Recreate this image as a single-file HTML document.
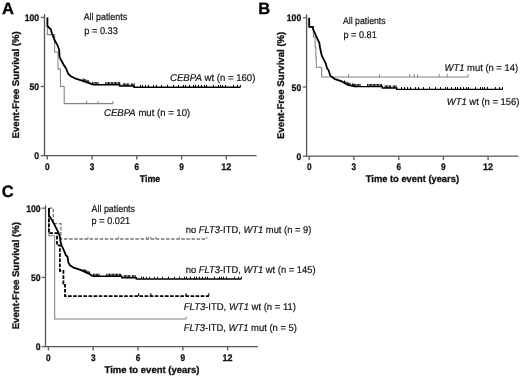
<!DOCTYPE html>
<html><head><meta charset="utf-8"><title>Figure</title>
<style>
html,body{margin:0;padding:0;background:#fff;}
svg{display:block;will-change:transform;}
text{text-rendering:geometricPrecision;font-family:"Liberation Sans",sans-serif;font-size:9.8px;fill:#111;stroke:#111;stroke-width:0.2px;}
.b{font-weight:bold;font-size:9.7px;fill:#111;stroke:#111;stroke-width:0.3px;}
.t{font-size:9.5px;}
.p{font-weight:bold;font-size:16.5px;fill:#000;stroke:#000;stroke-width:0.3px;}
i,tspan.i{font-style:italic;}
</style></head><body>
<svg width="520" height="377" viewBox="0 0 520 377">
<rect width="520" height="377" fill="#fff"/>
<text x="1.9" y="13.8" class="p">A</text>
<path d="M44.5,14.2 V155.7 H256.6" fill="none" stroke="#555" stroke-width="1.3"/>
<path d="M40.7,17.4 H44.5" stroke="#606060" stroke-width="1.3"/>
<text x="39.1" y="20.9" text-anchor="end" class="b t" textLength="14.4" lengthAdjust="spacingAndGlyphs">100</text>
<path d="M40.7,86.5 H44.5" stroke="#606060" stroke-width="1.3"/>
<text x="39.1" y="90.0" text-anchor="end" class="b t" textLength="9.6" lengthAdjust="spacingAndGlyphs">50</text>
<path d="M40.7,155.7 H44.5" stroke="#606060" stroke-width="1.3"/>
<text x="39.1" y="159.2" text-anchor="end" class="b t" textLength="4.8" lengthAdjust="spacingAndGlyphs">0</text>
<path d="M47.3,155.7 V159.5" stroke="#606060" stroke-width="1.4"/>
<text x="47.3" y="169.6" text-anchor="middle" class="b t" textLength="4.6" lengthAdjust="spacingAndGlyphs">0</text>
<path d="M92.1,155.7 V159.5" stroke="#606060" stroke-width="1.4"/>
<text x="92.1" y="169.6" text-anchor="middle" class="b t" textLength="4.6" lengthAdjust="spacingAndGlyphs">3</text>
<path d="M136.8,155.7 V159.5" stroke="#606060" stroke-width="1.4"/>
<text x="136.8" y="169.6" text-anchor="middle" class="b t" textLength="4.6" lengthAdjust="spacingAndGlyphs">6</text>
<path d="M181.6,155.7 V159.5" stroke="#606060" stroke-width="1.4"/>
<text x="181.6" y="169.6" text-anchor="middle" class="b t" textLength="4.6" lengthAdjust="spacingAndGlyphs">9</text>
<path d="M226.3,155.7 V159.5" stroke="#606060" stroke-width="1.4"/>
<text x="226.3" y="169.6" text-anchor="middle" class="b t" textLength="10.0" lengthAdjust="spacingAndGlyphs">12</text>
<text x="150.0" y="182.2" text-anchor="middle" class="b" textLength="20.7" lengthAdjust="spacingAndGlyphs">Time</text>
<text transform="translate(18.8,84.8) rotate(-90)" text-anchor="middle" class="b" textLength="107.2" lengthAdjust="spacingAndGlyphs">Event-Free Survival (%)</text>
<polyline points="47.4,17.4 47.4,34.6 54.6,34.6 54.6,51.9 58.0,51.9 58.0,69.1 60.4,69.1 60.4,86.4 64.2,86.4 64.2,103.6 113.0,103.6" fill="none" stroke="#828282" stroke-width="1.05"/>
<path d="M86.6,103.6 v-2.6" stroke="#828282" stroke-width="1"/><path d="M98.0,103.6 v-2.6" stroke="#828282" stroke-width="1"/><path d="M113.0,103.6 v-2.6" stroke="#828282" stroke-width="1"/>
<polyline points="47.4,17.4 47.4,26.0 51.0,29.7 51.5,32.1 54.5,40.0 57.7,45.6 59.2,50.3 59.5,56.7 61.0,60.0 63.5,64.5 66.1,68.6 68.1,73.5 70.9,76.3 75.7,78.7 81.2,80.3 89.2,83.1 93.0,84.7" fill="none" stroke="#000" stroke-width="1.8" stroke-linejoin="round"/><polyline points="93.0,84.7 119.8,84.7 119.8,86.0 134.0,86.0 134.0,87.2 240.4,87.2" fill="none" stroke="#000" stroke-width="1.4" stroke-linejoin="miter"/>
<path d="M92.5,84.7 v-2.6" stroke="#000" stroke-width="1.0"/><path d="M93.9,84.7 v-2.6" stroke="#000" stroke-width="1.0"/><path d="M95.3,84.7 v-2.6" stroke="#000" stroke-width="1.0"/><path d="M96.7,84.7 v-2.6" stroke="#000" stroke-width="1.0"/><path d="M98.1,84.7 v-2.6" stroke="#000" stroke-width="1.0"/><path d="M105.7,84.7 v-2.6" stroke="#000" stroke-width="1.0"/><path d="M107.1,84.7 v-2.6" stroke="#000" stroke-width="1.0"/><path d="M108.5,84.7 v-2.6" stroke="#000" stroke-width="1.0"/><path d="M109.9,84.7 v-2.6" stroke="#000" stroke-width="1.0"/><path d="M111.3,84.7 v-2.6" stroke="#000" stroke-width="1.0"/><path d="M112.7,84.7 v-2.6" stroke="#000" stroke-width="1.0"/><path d="M114.1,84.7 v-2.6" stroke="#000" stroke-width="1.0"/><path d="M115.5,84.7 v-2.6" stroke="#000" stroke-width="1.0"/><path d="M116.9,84.7 v-2.6" stroke="#000" stroke-width="1.0"/><path d="M118.3,84.7 v-2.6" stroke="#000" stroke-width="1.0"/><path d="M119.7,84.7 v-2.6" stroke="#000" stroke-width="1.0"/><path d="M123.2,86.0 v-2.6" stroke="#000" stroke-width="1.0"/><path d="M124.6,86.0 v-2.6" stroke="#000" stroke-width="1.0"/><path d="M126.0,86.0 v-2.6" stroke="#000" stroke-width="1.0"/><path d="M127.4,86.0 v-2.6" stroke="#000" stroke-width="1.0"/><path d="M128.8,86.0 v-2.6" stroke="#000" stroke-width="1.0"/><path d="M131.4,86.0 v-2.6" stroke="#000" stroke-width="1.0"/><path d="M132.8,86.0 v-2.6" stroke="#000" stroke-width="1.0"/><path d="M134.2,86.0 v-2.6" stroke="#000" stroke-width="1.0"/><path d="M140.5,87.2 v-2.3" stroke="#000" stroke-width="1.0"/><path d="M142.5,87.2 v-2.3" stroke="#000" stroke-width="1.0"/><path d="M145.5,87.2 v-2.3" stroke="#000" stroke-width="1.0"/><path d="M148.5,87.2 v-2.3" stroke="#000" stroke-width="1.0"/><path d="M153.5,87.2 v-2.3" stroke="#000" stroke-width="1.0"/><path d="M156.5,87.2 v-2.3" stroke="#000" stroke-width="1.0"/><path d="M161.5,87.2 v-2.3" stroke="#000" stroke-width="1.0"/><path d="M167.5,87.2 v-2.3" stroke="#000" stroke-width="1.0"/><path d="M173.5,87.2 v-2.3" stroke="#000" stroke-width="1.0"/><path d="M178.5,87.2 v-2.3" stroke="#000" stroke-width="1.0"/><path d="M183.5,87.2 v-2.3" stroke="#000" stroke-width="1.0"/><path d="M185.5,87.2 v-2.3" stroke="#000" stroke-width="1.0"/><path d="M189.5,87.2 v-2.3" stroke="#000" stroke-width="1.0"/><path d="M193.5,87.2 v-2.3" stroke="#000" stroke-width="1.0"/><path d="M195.5,87.2 v-2.3" stroke="#000" stroke-width="1.0"/><path d="M198.5,87.2 v-2.3" stroke="#000" stroke-width="1.0"/><path d="M201.5,87.2 v-2.3" stroke="#000" stroke-width="1.0"/><path d="M204.5,87.2 v-2.3" stroke="#000" stroke-width="1.0"/><path d="M206.5,87.2 v-2.3" stroke="#000" stroke-width="1.0"/><path d="M213.5,87.2 v-2.3" stroke="#000" stroke-width="1.0"/><path d="M218.5,87.2 v-2.3" stroke="#000" stroke-width="1.0"/><path d="M220.5,87.2 v-2.3" stroke="#000" stroke-width="1.0"/><path d="M222.5,87.2 v-2.3" stroke="#000" stroke-width="1.0"/><path d="M225.5,87.2 v-2.3" stroke="#000" stroke-width="1.0"/><path d="M233.5,87.2 v-2.3" stroke="#000" stroke-width="1.0"/><path d="M237.5,87.2 v-2.3" stroke="#000" stroke-width="1.0"/><path d="M240.4,87.2 v-2.3" stroke="#000" stroke-width="1.0"/>
<path d="M83.0,80.9 v-2.5" stroke="#000" stroke-width="1.0"/><path d="M84.4,81.4 v-2.5" stroke="#000" stroke-width="1.0"/><path d="M85.8,81.9 v-2.5" stroke="#000" stroke-width="1.0"/><path d="M87.2,82.4 v-2.5" stroke="#000" stroke-width="1.0"/><path d="M88.6,82.9 v-2.5" stroke="#000" stroke-width="1.0"/>
<text x="83.7" y="20.0" textLength="43.4" lengthAdjust="spacingAndGlyphs">All patients</text>
<text x="84.2" y="33.9" textLength="33.7" lengthAdjust="spacingAndGlyphs">p = 0.33</text>
<text x="170.0" y="81.2" textLength="85.4" lengthAdjust="spacingAndGlyphs"><tspan class="i">CEBPA</tspan> wt (n = 160)</text>
<text x="104.0" y="115.6" textLength="86.2" lengthAdjust="spacingAndGlyphs"><tspan class="i">CEBPA</tspan> mut (n = 10)</text>
<text x="258.3" y="13.8" class="p">B</text>
<path d="M306.6,14.600000000000001 V156.2 H518.4" fill="none" stroke="#555" stroke-width="1.3"/>
<path d="M302.8,17.8 H306.6" stroke="#606060" stroke-width="1.3"/>
<text x="301.2" y="21.3" text-anchor="end" class="b t" textLength="14.4" lengthAdjust="spacingAndGlyphs">100</text>
<path d="M302.8,87.0 H306.6" stroke="#606060" stroke-width="1.3"/>
<text x="301.2" y="90.5" text-anchor="end" class="b t" textLength="9.6" lengthAdjust="spacingAndGlyphs">50</text>
<path d="M302.8,156.2 H306.6" stroke="#606060" stroke-width="1.3"/>
<text x="301.2" y="159.7" text-anchor="end" class="b t" textLength="4.8" lengthAdjust="spacingAndGlyphs">0</text>
<path d="M309.2,156.2 V160.0" stroke="#606060" stroke-width="1.4"/>
<text x="309.2" y="170.1" text-anchor="middle" class="b t" textLength="4.6" lengthAdjust="spacingAndGlyphs">0</text>
<path d="M353.9,156.2 V160.0" stroke="#606060" stroke-width="1.4"/>
<text x="353.9" y="170.1" text-anchor="middle" class="b t" textLength="4.6" lengthAdjust="spacingAndGlyphs">3</text>
<path d="M398.7,156.2 V160.0" stroke="#606060" stroke-width="1.4"/>
<text x="398.7" y="170.1" text-anchor="middle" class="b t" textLength="4.6" lengthAdjust="spacingAndGlyphs">6</text>
<path d="M443.4,156.2 V160.0" stroke="#606060" stroke-width="1.4"/>
<text x="443.4" y="170.1" text-anchor="middle" class="b t" textLength="4.6" lengthAdjust="spacingAndGlyphs">9</text>
<path d="M488.1,156.2 V160.0" stroke="#606060" stroke-width="1.4"/>
<text x="488.1" y="170.1" text-anchor="middle" class="b t" textLength="10.0" lengthAdjust="spacingAndGlyphs">12</text>
<text x="412.4" y="182.4" text-anchor="middle" class="b" textLength="93.2" lengthAdjust="spacingAndGlyphs">Time to event (years)</text>
<text transform="translate(283.5,85.3) rotate(-90)" text-anchor="middle" class="b" textLength="107.2" lengthAdjust="spacingAndGlyphs">Event-Free Survival (%)</text>
<polyline points="309.2,17.7 309.2,27.2 313.4,27.2 313.4,37.0 315.1,37.0 315.1,47.0 315.8,47.0 315.8,57.0 316.3,57.0 316.3,67.2 321.6,67.2 321.6,77.0 468.0,77.0" fill="none" stroke="#828282" stroke-width="1.05"/>
<path d="M348.6,77.1 v-3" stroke="#828282" stroke-width="1"/><path d="M379.6,77.1 v-3" stroke="#828282" stroke-width="1"/><path d="M409.6,77.1 v-3" stroke="#828282" stroke-width="1"/><path d="M414.1,77.1 v-3" stroke="#828282" stroke-width="1"/><path d="M417.6,77.1 v-3" stroke="#828282" stroke-width="1"/><path d="M439.2,77.1 v-3" stroke="#828282" stroke-width="1"/><path d="M447.3,77.1 v-3" stroke="#828282" stroke-width="1"/><path d="M468.0,77.1 v-3" stroke="#828282" stroke-width="1"/>
<polyline points="309.2,17.7 309.2,26.9 313.0,26.9 313.0,29.0 315.6,34.8 319.3,42.8 320.1,48.0 321.7,55.4 325.9,63.9 327.0,68.2 328.6,70.3 330.2,75.6 334.4,78.8 341.8,81.4 347.2,84.6 352.5,85.9 356.0,86.6" fill="none" stroke="#000" stroke-width="1.8" stroke-linejoin="round"/><polyline points="356.0,86.6 382.3,86.6 382.3,88.0 396.7,88.0 396.7,89.4 502.5,89.4" fill="none" stroke="#000" stroke-width="1.4" stroke-linejoin="miter"/>
<path d="M354.4,86.6 v-2.6" stroke="#000" stroke-width="1.0"/><path d="M355.8,86.6 v-2.6" stroke="#000" stroke-width="1.0"/><path d="M357.2,86.6 v-2.6" stroke="#000" stroke-width="1.0"/><path d="M358.6,86.6 v-2.6" stroke="#000" stroke-width="1.0"/><path d="M360.0,86.6 v-2.6" stroke="#000" stroke-width="1.0"/><path d="M367.6,86.6 v-2.6" stroke="#000" stroke-width="1.0"/><path d="M369.0,86.6 v-2.6" stroke="#000" stroke-width="1.0"/><path d="M370.4,86.6 v-2.6" stroke="#000" stroke-width="1.0"/><path d="M371.8,86.6 v-2.6" stroke="#000" stroke-width="1.0"/><path d="M373.2,86.6 v-2.6" stroke="#000" stroke-width="1.0"/><path d="M374.6,86.6 v-2.6" stroke="#000" stroke-width="1.0"/><path d="M376.0,86.6 v-2.6" stroke="#000" stroke-width="1.0"/><path d="M377.4,86.6 v-2.6" stroke="#000" stroke-width="1.0"/><path d="M378.8,86.6 v-2.6" stroke="#000" stroke-width="1.0"/><path d="M380.2,86.6 v-2.6" stroke="#000" stroke-width="1.0"/><path d="M381.6,86.6 v-2.6" stroke="#000" stroke-width="1.0"/><path d="M385.1,88.0 v-2.6" stroke="#000" stroke-width="1.0"/><path d="M386.5,88.0 v-2.6" stroke="#000" stroke-width="1.0"/><path d="M387.9,88.0 v-2.6" stroke="#000" stroke-width="1.0"/><path d="M389.3,88.0 v-2.6" stroke="#000" stroke-width="1.0"/><path d="M390.7,88.0 v-2.6" stroke="#000" stroke-width="1.0"/><path d="M393.3,88.0 v-2.6" stroke="#000" stroke-width="1.0"/><path d="M394.7,88.0 v-2.6" stroke="#000" stroke-width="1.0"/><path d="M396.1,88.0 v-2.6" stroke="#000" stroke-width="1.0"/><path d="M401.5,89.4 v-2.3" stroke="#000" stroke-width="1.0"/><path d="M404.5,89.4 v-2.3" stroke="#000" stroke-width="1.0"/><path d="M407.5,89.4 v-2.3" stroke="#000" stroke-width="1.0"/><path d="M410.5,89.4 v-2.3" stroke="#000" stroke-width="1.0"/><path d="M415.5,89.4 v-2.3" stroke="#000" stroke-width="1.0"/><path d="M418.5,89.4 v-2.3" stroke="#000" stroke-width="1.0"/><path d="M423.5,89.4 v-2.3" stroke="#000" stroke-width="1.0"/><path d="M429.5,89.4 v-2.3" stroke="#000" stroke-width="1.0"/><path d="M435.5,89.4 v-2.3" stroke="#000" stroke-width="1.0"/><path d="M440.5,89.4 v-2.3" stroke="#000" stroke-width="1.0"/><path d="M445.5,89.4 v-2.3" stroke="#000" stroke-width="1.0"/><path d="M447.5,89.4 v-2.3" stroke="#000" stroke-width="1.0"/><path d="M451.5,89.4 v-2.3" stroke="#000" stroke-width="1.0"/><path d="M455.5,89.4 v-2.3" stroke="#000" stroke-width="1.0"/><path d="M457.5,89.4 v-2.3" stroke="#000" stroke-width="1.0"/><path d="M460.5,89.4 v-2.3" stroke="#000" stroke-width="1.0"/><path d="M463.5,89.4 v-2.3" stroke="#000" stroke-width="1.0"/><path d="M466.5,89.4 v-2.3" stroke="#000" stroke-width="1.0"/><path d="M468.5,89.4 v-2.3" stroke="#000" stroke-width="1.0"/><path d="M475.5,89.4 v-2.3" stroke="#000" stroke-width="1.0"/><path d="M480.5,89.4 v-2.3" stroke="#000" stroke-width="1.0"/><path d="M482.5,89.4 v-2.3" stroke="#000" stroke-width="1.0"/><path d="M484.5,89.4 v-2.3" stroke="#000" stroke-width="1.0"/><path d="M487.5,89.4 v-2.3" stroke="#000" stroke-width="1.0"/><path d="M495.5,89.4 v-2.3" stroke="#000" stroke-width="1.0"/><path d="M499.5,89.4 v-2.3" stroke="#000" stroke-width="1.0"/><path d="M502.5,89.4 v-2.3" stroke="#000" stroke-width="1.0"/>
<path d="M344.5,83.0 v-2.5" stroke="#000" stroke-width="1.0"/><path d="M345.9,83.8 v-2.5" stroke="#000" stroke-width="1.0"/><path d="M347.3,84.6 v-2.5" stroke="#000" stroke-width="1.0"/><path d="M348.7,85.0 v-2.5" stroke="#000" stroke-width="1.0"/><path d="M350.1,85.3 v-2.5" stroke="#000" stroke-width="1.0"/><path d="M352.5,85.9 v-2.5" stroke="#000" stroke-width="1.0"/><path d="M353.9,86.2 v-2.5" stroke="#000" stroke-width="1.0"/>
<text x="343.0" y="24.1" textLength="42.6" lengthAdjust="spacingAndGlyphs">All patients</text>
<text x="343.4" y="38.0" textLength="33.4" lengthAdjust="spacingAndGlyphs">p = 0.81</text>
<text x="444.6" y="70.9" textLength="73.5" lengthAdjust="spacingAndGlyphs"><tspan class="i">WT1</tspan> mut (n = 14)</text>
<text x="446.8" y="104.5" textLength="72.7" lengthAdjust="spacingAndGlyphs"><tspan class="i">WT1</tspan> wt (n = 156)</text>
<text x="1.7" y="197.4" class="p">C</text>
<path d="M45.5,205.29999999999998 V346.6 H257.9" fill="none" stroke="#555" stroke-width="1.3"/>
<path d="M41.7,208.2 H45.5" stroke="#606060" stroke-width="1.3"/>
<text x="40.6" y="211.7" text-anchor="end" class="b t" textLength="14.4" lengthAdjust="spacingAndGlyphs">100</text>
<path d="M41.7,277.4 H45.5" stroke="#606060" stroke-width="1.3"/>
<text x="40.6" y="280.9" text-anchor="end" class="b t" textLength="9.6" lengthAdjust="spacingAndGlyphs">50</text>
<path d="M41.7,346.6 H45.5" stroke="#606060" stroke-width="1.3"/>
<text x="40.6" y="350.1" text-anchor="end" class="b t" textLength="4.8" lengthAdjust="spacingAndGlyphs">0</text>
<path d="M48.4,346.6 V350.40000000000003" stroke="#606060" stroke-width="1.4"/>
<text x="48.4" y="360.5" text-anchor="middle" class="b t" textLength="4.6" lengthAdjust="spacingAndGlyphs">0</text>
<path d="M93.2,346.6 V350.40000000000003" stroke="#606060" stroke-width="1.4"/>
<text x="93.2" y="360.5" text-anchor="middle" class="b t" textLength="4.6" lengthAdjust="spacingAndGlyphs">3</text>
<path d="M138.0,346.6 V350.40000000000003" stroke="#606060" stroke-width="1.4"/>
<text x="138.0" y="360.5" text-anchor="middle" class="b t" textLength="4.6" lengthAdjust="spacingAndGlyphs">6</text>
<path d="M182.8,346.6 V350.40000000000003" stroke="#606060" stroke-width="1.4"/>
<text x="182.8" y="360.5" text-anchor="middle" class="b t" textLength="4.6" lengthAdjust="spacingAndGlyphs">9</text>
<path d="M227.6,346.6 V350.40000000000003" stroke="#606060" stroke-width="1.4"/>
<text x="227.6" y="360.5" text-anchor="middle" class="b t" textLength="10.0" lengthAdjust="spacingAndGlyphs">12</text>
<text x="152.0" y="373.1" text-anchor="middle" class="b" textLength="95.0" lengthAdjust="spacingAndGlyphs">Time to event (years)</text>
<text transform="translate(19.2,275.7) rotate(-90)" text-anchor="middle" class="b" textLength="107.2" lengthAdjust="spacingAndGlyphs">Event-Free Survival (%)</text>
<polyline points="48.9,208.2 48.9,235.8 54.7,235.8 54.7,319.0 186.2,319.0" fill="none" stroke="#828282" stroke-width="1.05"/>
<path d="M186.2,319.0 v-2.4" stroke="#828282" stroke-width="0.9"/>
<polyline points="48.9,208.2 53.3,208.2 53.3,223.6 60.9,223.6 60.9,239.0 206.8,239.0" fill="none" stroke="#747474" stroke-width="1.3" stroke-dasharray="3.5 1.6"/>
<path d="M88.0,239.0 v-2.4" stroke="#828282" stroke-width="0.9"/><path d="M118.7,239.0 v-2.4" stroke="#828282" stroke-width="0.9"/><path d="M146.4,239.0 v-2.4" stroke="#828282" stroke-width="0.9"/><path d="M148.7,239.0 v-2.4" stroke="#828282" stroke-width="0.9"/><path d="M150.8,239.0 v-2.4" stroke="#828282" stroke-width="0.9"/><path d="M155.6,239.0 v-2.4" stroke="#828282" stroke-width="0.9"/><path d="M179.3,239.0 v-2.4" stroke="#828282" stroke-width="0.9"/><path d="M206.8,239.0 v-2.4" stroke="#828282" stroke-width="0.9"/>
<polyline points="48.9,208.2 48.9,233.2 57.0,233.2 57.0,245.3 59.9,245.3 59.9,270.8 63.4,270.8 63.4,283.5 65.0,283.5 65.0,296.1 208.8,296.1" fill="none" stroke="#000" stroke-width="1.8" stroke-dasharray="3.6 1.5"/>
<path d="M138.6,296.1 v-2.8" stroke="#000" stroke-width="1.1"/><path d="M150.8,296.1 v-2.8" stroke="#000" stroke-width="1.1"/><path d="M186.0,296.1 v-2.8" stroke="#000" stroke-width="1.1"/><path d="M208.8,296.1 v-2.8" stroke="#000" stroke-width="1.1"/>
<polyline points="48.9,208.2 48.9,215.6 50.5,217.8 52.0,220.3 54.3,224.3 56.3,228.3 58.7,233.0 59.9,237.0 60.7,242.6 61.7,245.5 64.3,251.4 65.9,255.3 67.5,256.7 68.3,262.1 69.9,265.3 73.0,267.3 81.8,270.4 85.8,272.4 89.8,274.2 93.0,276.3" fill="none" stroke="#000" stroke-width="1.8" stroke-linejoin="round"/><polyline points="93.0,276.3 121.8,276.3 121.8,277.7 136.3,277.7 136.3,279.0 241.4,279.0" fill="none" stroke="#000" stroke-width="1.4" stroke-linejoin="miter"/>
<path d="M93.5,276.3 v-2.6" stroke="#000" stroke-width="1.0"/><path d="M94.9,276.3 v-2.6" stroke="#000" stroke-width="1.0"/><path d="M96.3,276.3 v-2.6" stroke="#000" stroke-width="1.0"/><path d="M97.7,276.3 v-2.6" stroke="#000" stroke-width="1.0"/><path d="M99.1,276.3 v-2.6" stroke="#000" stroke-width="1.0"/><path d="M106.7,276.3 v-2.6" stroke="#000" stroke-width="1.0"/><path d="M108.1,276.3 v-2.6" stroke="#000" stroke-width="1.0"/><path d="M109.5,276.3 v-2.6" stroke="#000" stroke-width="1.0"/><path d="M110.9,276.3 v-2.6" stroke="#000" stroke-width="1.0"/><path d="M112.3,276.3 v-2.6" stroke="#000" stroke-width="1.0"/><path d="M113.7,276.3 v-2.6" stroke="#000" stroke-width="1.0"/><path d="M115.1,276.3 v-2.6" stroke="#000" stroke-width="1.0"/><path d="M116.5,276.3 v-2.6" stroke="#000" stroke-width="1.0"/><path d="M117.9,276.3 v-2.6" stroke="#000" stroke-width="1.0"/><path d="M119.3,276.3 v-2.6" stroke="#000" stroke-width="1.0"/><path d="M120.7,276.3 v-2.6" stroke="#000" stroke-width="1.0"/><path d="M124.2,277.7 v-2.6" stroke="#000" stroke-width="1.0"/><path d="M125.6,277.7 v-2.6" stroke="#000" stroke-width="1.0"/><path d="M127.0,277.7 v-2.6" stroke="#000" stroke-width="1.0"/><path d="M128.4,277.7 v-2.6" stroke="#000" stroke-width="1.0"/><path d="M129.8,277.7 v-2.6" stroke="#000" stroke-width="1.0"/><path d="M132.4,277.7 v-2.6" stroke="#000" stroke-width="1.0"/><path d="M133.8,277.7 v-2.6" stroke="#000" stroke-width="1.0"/><path d="M135.2,277.7 v-2.6" stroke="#000" stroke-width="1.0"/><path d="M141.5,279.0 v-2.3" stroke="#000" stroke-width="1.0"/><path d="M143.5,279.0 v-2.3" stroke="#000" stroke-width="1.0"/><path d="M146.5,279.0 v-2.3" stroke="#000" stroke-width="1.0"/><path d="M149.5,279.0 v-2.3" stroke="#000" stroke-width="1.0"/><path d="M154.5,279.0 v-2.3" stroke="#000" stroke-width="1.0"/><path d="M157.5,279.0 v-2.3" stroke="#000" stroke-width="1.0"/><path d="M162.5,279.0 v-2.3" stroke="#000" stroke-width="1.0"/><path d="M168.5,279.0 v-2.3" stroke="#000" stroke-width="1.0"/><path d="M174.5,279.0 v-2.3" stroke="#000" stroke-width="1.0"/><path d="M179.5,279.0 v-2.3" stroke="#000" stroke-width="1.0"/><path d="M184.5,279.0 v-2.3" stroke="#000" stroke-width="1.0"/><path d="M186.5,279.0 v-2.3" stroke="#000" stroke-width="1.0"/><path d="M190.5,279.0 v-2.3" stroke="#000" stroke-width="1.0"/><path d="M194.5,279.0 v-2.3" stroke="#000" stroke-width="1.0"/><path d="M196.5,279.0 v-2.3" stroke="#000" stroke-width="1.0"/><path d="M199.5,279.0 v-2.3" stroke="#000" stroke-width="1.0"/><path d="M202.5,279.0 v-2.3" stroke="#000" stroke-width="1.0"/><path d="M205.5,279.0 v-2.3" stroke="#000" stroke-width="1.0"/><path d="M207.5,279.0 v-2.3" stroke="#000" stroke-width="1.0"/><path d="M214.5,279.0 v-2.3" stroke="#000" stroke-width="1.0"/><path d="M219.5,279.0 v-2.3" stroke="#000" stroke-width="1.0"/><path d="M221.5,279.0 v-2.3" stroke="#000" stroke-width="1.0"/><path d="M223.5,279.0 v-2.3" stroke="#000" stroke-width="1.0"/><path d="M226.5,279.0 v-2.3" stroke="#000" stroke-width="1.0"/><path d="M234.5,279.0 v-2.3" stroke="#000" stroke-width="1.0"/><path d="M238.5,279.0 v-2.3" stroke="#000" stroke-width="1.0"/><path d="M241.4,279.0 v-2.3" stroke="#000" stroke-width="1.0"/>
<path d="M84.0,271.5 v-2.5" stroke="#000" stroke-width="1.0"/><path d="M85.4,272.2 v-2.5" stroke="#000" stroke-width="1.0"/><path d="M86.8,272.8 v-2.5" stroke="#000" stroke-width="1.0"/><path d="M88.2,273.5 v-2.5" stroke="#000" stroke-width="1.0"/><path d="M89.6,274.1 v-2.5" stroke="#000" stroke-width="1.0"/>
<text x="91.6" y="211.8" textLength="43.4" lengthAdjust="spacingAndGlyphs">All patients</text>
<text x="91.6" y="223.5" textLength="38.5" lengthAdjust="spacingAndGlyphs">p = 0.021</text>
<text x="185.8" y="232.7" textLength="125.6" lengthAdjust="spacingAndGlyphs">no <tspan class="i">FLT3</tspan>-ITD, <tspan class="i">WT1</tspan> mut (n = 9)</text>
<text x="185.8" y="272.9" textLength="129.8" lengthAdjust="spacingAndGlyphs">no <tspan class="i">FLT3</tspan>-ITD, <tspan class="i">WT1</tspan> wt (n = 145)</text>
<text x="183.8" y="309.7" textLength="112.1" lengthAdjust="spacingAndGlyphs"><tspan class="i">FLT3</tspan>-ITD, <tspan class="i">WT1</tspan> wt (n = 11)</text>
<text x="183.8" y="331.1" textLength="113.1" lengthAdjust="spacingAndGlyphs"><tspan class="i">FLT3</tspan>-ITD, <tspan class="i">WT1</tspan> mut (n = 5)</text>
</svg></body></html>
